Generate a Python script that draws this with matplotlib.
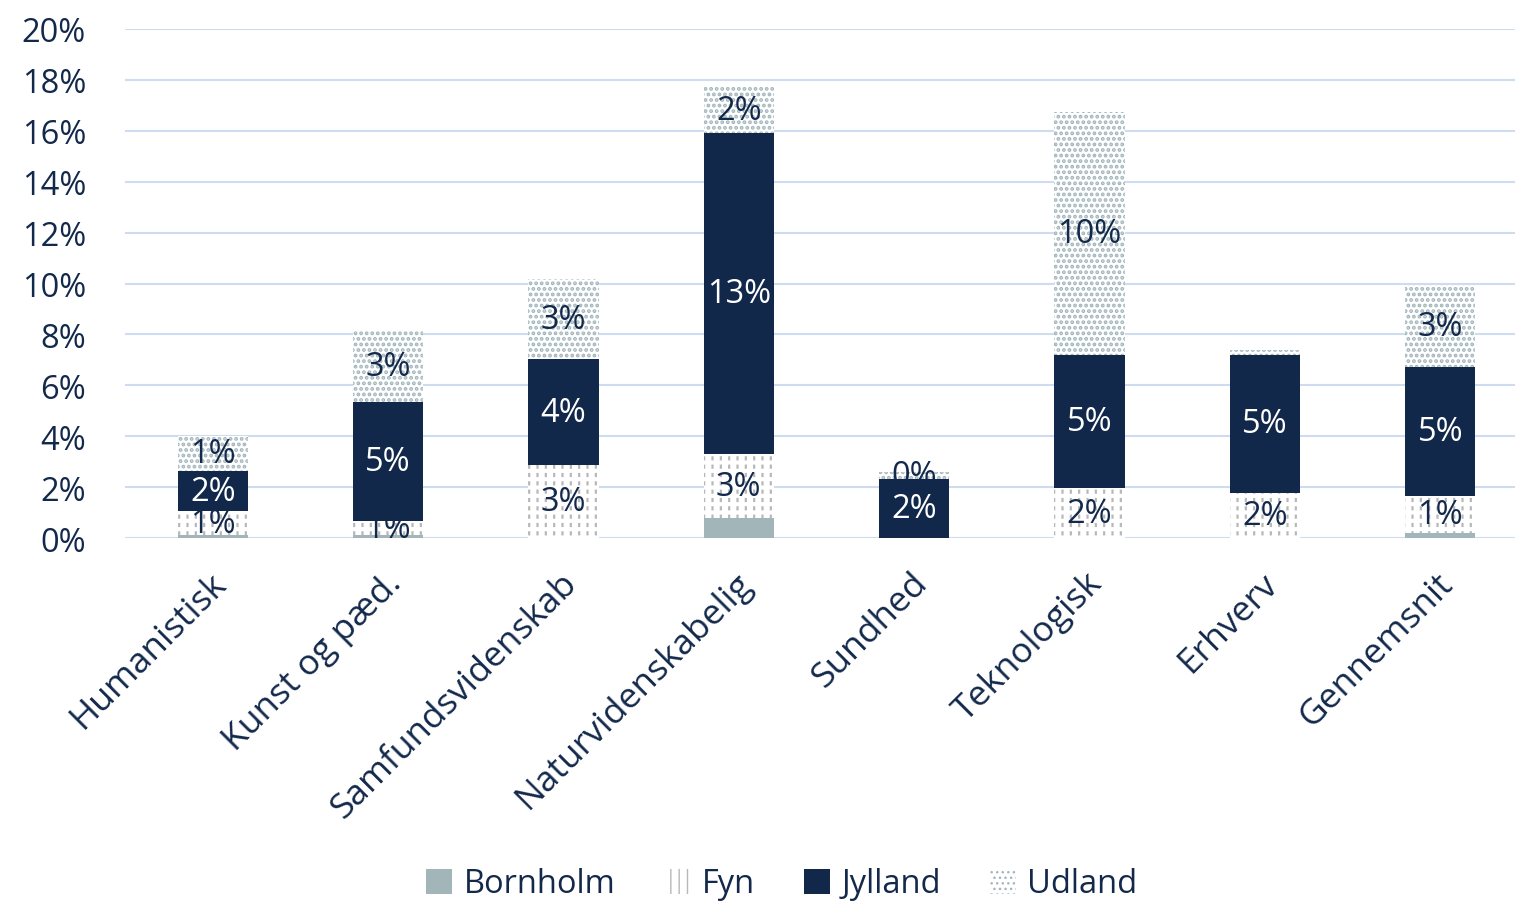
import matplotlib
matplotlib.use("Agg")
import matplotlib.pyplot as plt
import matplotlib.transforms as mtransforms
import numpy as np

categories = ["Humanistisk", "Kunst og pæd.", "Samfundsvidenskab", "Naturvidenskabelig",
              "Sundhed", "Teknologisk", "Erhverv", "Gennemsnit"]
bornholm = [0.10, 0.10, 0.00, 0.78, 0.00, 0.00, 0.00, 0.20]
fyn      = [0.95, 0.57, 2.87, 2.52, 0.00, 1.96, 1.77, 1.45]
jylland  = [1.57, 4.67, 4.16, 12.61, 2.32, 5.23, 5.42, 5.07]
udland   = [1.38, 2.83, 3.15, 1.81, 0.28, 9.55, 0.20, 3.22]
yticks = [0, 2, 4, 6, 8, 10, 12, 14, 16, 18, 20]

plt.rcParams['font.family'] = ['Open Sans', 'DejaVu Sans']

FS = 23.5
TXT = '#13294b'
NAVY = '#12284a'
fig = plt.figure(figsize=(15.15, 9.04), dpi=100)
W, H = 1515, 904
ax = fig.add_axes([125 / W, (H - 539) / H, 1403 / W, 509 / H])

x = np.arange(len(categories))
bw = 0.4
b = np.array(bornholm); f = np.array(fyn); j = np.array(jylland); u = np.array(udland)

ax.bar(x, b, bw, color='#a2b5b9', label='Bornholm', zorder=3)
with plt.rc_context({'hatch.linewidth': 1.6}):
    ax.bar(x, f, bw, bottom=b, facecolor='white', edgecolor='#b8b8b8', hatch='||', linewidth=0,
           label='Fyn', zorder=3)
with plt.rc_context({'hatch.linewidth': 3.0}):
    ax.bar(x, f, bw, bottom=b, facecolor='none', edgecolor='white', hatch='--', linewidth=0,
           zorder=3.5)
ax.bar(x, j, bw, bottom=b + f, color=NAVY, label='Jylland', zorder=3)
with plt.rc_context({'hatch.linewidth': 1.9}):
    ax.bar(x, u, bw, bottom=b + f + j, facecolor='white', edgecolor='#a3b6bb', hatch='...',
           linewidth=0, label='Udland', zorder=3)

def lab(vals, bottoms, color):
    for i, (v, bt) in enumerate(zip(vals, bottoms)):
        if v < 0.25:
            continue
        ax.text(i, bt + v / 2, f"{int(round(v))}%", ha='center', va='center',
                fontsize=FS, color=color, zorder=5)

lab(f, b, TXT)
lab(j, b + f, 'white')
lab(u, b + f + j, TXT)

ax.set_ylim(0, 20)
ax.set_xlim(-0.5, len(categories) - 0.5)
ax.set_yticks(yticks)
ax.set_yticklabels([f"{t}%" for t in yticks], fontsize=FS, color=TXT)
ax.tick_params(axis='y', length=0, pad=28)
ax.set_xticks(x)
ax.set_xticklabels(categories, rotation=45, ha='right', rotation_mode='anchor',
                   fontsize=25.5, color=TXT)
ax.tick_params(axis='x', length=0, pad=20)
for lbl in ax.get_xticklabels():
    lbl.set_transform(lbl.get_transform() + mtransforms.ScaledTranslation(-0.04, 0, fig.dpi_scale_trans))
ax.grid(axis='y', color='#cfdbee', linewidth=1.5, zorder=0)
for s in ax.spines.values():
    s.set_visible(False)

leg = fig.legend(loc='center', bbox_to_anchor=(0.516, (H - 885) / H), ncol=4, frameon=False,
                 fontsize=FS, handlelength=0.8, handleheight=0.8, handletextpad=0.35,
                 columnspacing=1.5, labelcolor=TXT)

fig.savefig('out.png', dpi=100)
